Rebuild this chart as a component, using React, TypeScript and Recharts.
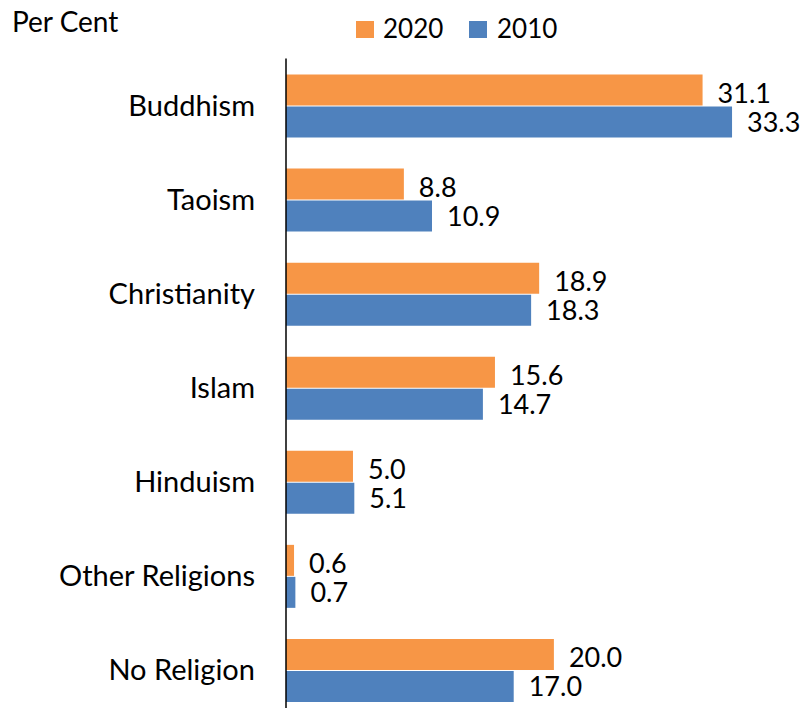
import React from 'react';
import { BarChart, Bar, XAxis, YAxis, Legend, LabelList } from 'recharts';

const categories = ['Buddhism', 'Taoism', 'Christianity', 'Islam', 'Hinduism', 'Other Religions', 'No Religion'];
const values2020 = [31.1, 8.8, 18.9, 15.6, 5.0, 0.6, 20.0];
const values2010 = [33.3, 10.9, 18.3, 14.7, 5.1, 0.7, 17.0];
const seriesNames = ['2020', '2010'];
const unitLabel = 'Per Cent';

const ORANGE = '#F79646';
const BLUE = '#4F81BD';
const FONT = 'Lato, "Open Sans", sans-serif';
const FS = 27;
const TICK_FS = 29;

const data = categories.map((name, i) => ({ name, v2020: values2020[i], v2010: values2010[i] }));

const LegendContent = () => (
  <svg width={806} height={50} style={{ display: 'block' }}>
    <text x={12} y={32} fontFamily={FONT} fontSize={28} fill="#000">{unitLabel}</text>
    <rect x={356} y={21} width={18} height={17} fill={ORANGE} />
    <text x={383} y={38} fontFamily={FONT} fontSize={26} fill="#000">{seriesNames[0]}</text>
    <rect x={469} y={21} width={18} height={17} fill={BLUE} />
    <text x={497} y={38} fontFamily={FONT} fontSize={26} fill="#000">{seriesNames[1]}</text>
  </svg>
);

const makeLabel = (dy: number) => (props: any) => {
  const { x, y, width, height, value } = props;
  return (
    <text
      x={Number(x) + Number(width) + 15}
      y={Number(y) + Number(height) / 2 + dy + 9.5}
      fontFamily={FONT}
      fontSize={FS}
      fill="#000"
      textAnchor="start"
    >
      {Number(value).toFixed(1)}
    </text>
  );
};

export default function App() {
  return (
    <div style={{ position: 'absolute', left: 0, top: 0, width: 806, height: 708, overflow: 'hidden', background: '#fff' }}>
      <BarChart
        layout="vertical"
        width={806}
        height={717}
        data={data}
        margin={{ top: 8.5, right: 11, bottom: 0, left: 0 }}
        barSize={31}
        barGap={1}
      >
        <Legend
          verticalAlign="top"
          content={<LegendContent />}
          wrapperStyle={{ position: 'absolute', top: 0, left: 0, width: 806, height: 50 }}
        />
        <XAxis type="number" domain={[0, 38]} hide />
        <YAxis
          type="category"
          dataKey="name"
          width={286}
          tickLine={false}
          tickSize={0}
          tickMargin={31}
          axisLine={{ stroke: '#000', strokeWidth: 1.5 }}
          tick={{ fontFamily: FONT, fontSize: TICK_FS, fill: '#000' }}
          interval={0}
        />
        <Bar dataKey="v2020" name={seriesNames[0]} fill={ORANGE} isAnimationActive={false}>
          <LabelList dataKey="v2020" content={makeLabel(3)} />
        </Bar>
        <Bar dataKey="v2010" name={seriesNames[1]} fill={BLUE} isAnimationActive={false}>
          <LabelList dataKey="v2010" content={makeLabel(0)} />
        </Bar>
      </BarChart>
    </div>
  );
}
